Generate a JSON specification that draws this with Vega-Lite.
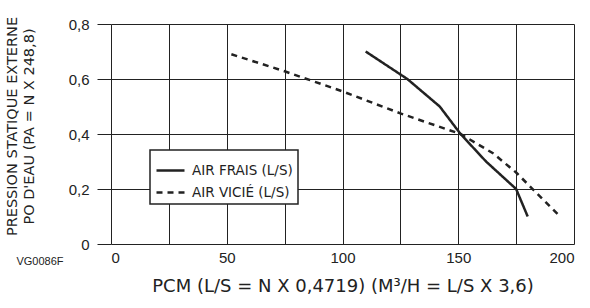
{
  "$schema": "https://vega.github.io/schema/vega-lite/v6.json",
  "autosize": "none",
  "width": 463,
  "height": 220,
  "padding": {"left": 111, "top": 24, "right": 16, "bottom": 64},
  "background": "white",
  "config": {
    "view": {"stroke": null},
    "axis": {"gridColor": "#222", "gridOpacity": 1, "gridWidth": 1, "domain": false},
    "legend": {"strokeWidth": 1.5}
  },
  "datasets": {
    "curves": [
      {"serie": "AIR FRAIS (L/S)", "pcm": 110, "p": 0.70},
      {"serie": "AIR FRAIS (L/S)", "pcm": 128, "p": 0.60},
      {"serie": "AIR FRAIS (L/S)", "pcm": 142, "p": 0.50},
      {"serie": "AIR FRAIS (L/S)", "pcm": 151, "p": 0.40},
      {"serie": "AIR FRAIS (L/S)", "pcm": 162, "p": 0.30},
      {"serie": "AIR FRAIS (L/S)", "pcm": 175, "p": 0.20},
      {"serie": "AIR FRAIS (L/S)", "pcm": 180, "p": 0.10},
      {"serie": "AIR VICIÉ (L/S)", "pcm": 52, "p": 0.69},
      {"serie": "AIR VICIÉ (L/S)", "pcm": 75, "p": 0.628},
      {"serie": "AIR VICIÉ (L/S)", "pcm": 100, "p": 0.555},
      {"serie": "AIR VICIÉ (L/S)", "pcm": 125, "p": 0.475},
      {"serie": "AIR VICIÉ (L/S)", "pcm": 151, "p": 0.40},
      {"serie": "AIR VICIÉ (L/S)", "pcm": 165, "p": 0.33},
      {"serie": "AIR VICIÉ (L/S)", "pcm": 175, "p": 0.26},
      {"serie": "AIR VICIÉ (L/S)", "pcm": 194, "p": 0.10}
    ],
    "code": [{"txt": "VG0086F", "pcm": 0, "p": 0}]
  },
  "layer": [
    {
      "data": {"name": "curves"},
      "mark": {"type": "line", "strokeWidth": 2.5, "color": "#222"},
      "encoding": {
        "x": {
          "field": "pcm", "type": "quantitative",
          "scale": {"domain": [0, 200], "nice": false},
          "axis": {
            "values": [0, 25, 50, 75, 100, 125, 150, 175, 200],
            "labelExpr": "datum.value % 50 == 0 ? datum.label : ''",
            "ticks": false,
            "labelPadding": 6,
            "labelFont": "Liberation Sans", "labelFontSize": 15, "labelColor": "#222",
            "title": "PCM (L/S = N X 0,4719) (M³/H = L/S X 3,6)",
            "titleFont": "DejaVu Sans", "titleFontSize": 18, "titleFontWeight": "normal", "titleColor": "#222",
            "titlePadding": 12
          }
        },
        "y": {
          "field": "p", "type": "quantitative",
          "scale": {"domain": [0, 0.8], "nice": false},
          "axis": {
            "values": [0, 0.2, 0.4, 0.6, 0.8],
            "labelExpr": "datum.value == 0 ? '0' : replace(format(datum.value, '.1f'), '.', ',')",
            "tickSize": 14, "tickColor": "#222", "tickWidth": 1,
            "labelPadding": 8,
            "labelFont": "Liberation Sans", "labelFontSize": 15, "labelColor": "#222",
            "title": ["PRESSION STATIQUE EXTERNE", "PO D'EAU (PA = N X 248,8)"],
            "titleFont": "DejaVu Sans", "titleFontSize": 14.5, "titleFontWeight": "normal", "titleColor": "#222",
            "titleAngle": -90, "titleX": -92, "titleY": 102, "titleLineHeight": 17,
            "titleAlign": "center", "titleBaseline": "bottom"
          }
        },
        "strokeDash": {
          "field": "serie", "type": "nominal",
          "scale": {"domain": ["AIR FRAIS (L/S)", "AIR VICIÉ (L/S)"], "range": [[1, 0], [6, 5]]},
          "legend": {
            "title": null,
            "orient": "none", "legendX": 39, "legendY": 126,
            "fillColor": "white", "strokeColor": "#222",
            "padding": 5,
            "symbolType": "stroke", "symbolSize": 784, "symbolStrokeWidth": 2.5, "symbolStrokeColor": "#222",
            "labelFont": "DejaVu Sans", "labelFontSize": 13.5, "labelColor": "#222", "labelOffset": 6,
            "rowPadding": 0
          }
        }
      }
    },
    {
      "data": {"name": "code"},
      "mark": {"type": "text", "font": "Liberation Sans", "fontSize": 11, "color": "#222", "dx": -71, "dy": 18},
      "encoding": {
        "x": {"field": "pcm", "type": "quantitative"},
        "y": {"field": "p", "type": "quantitative"},
        "text": {"field": "txt"}
      }
    }
  ]
}
